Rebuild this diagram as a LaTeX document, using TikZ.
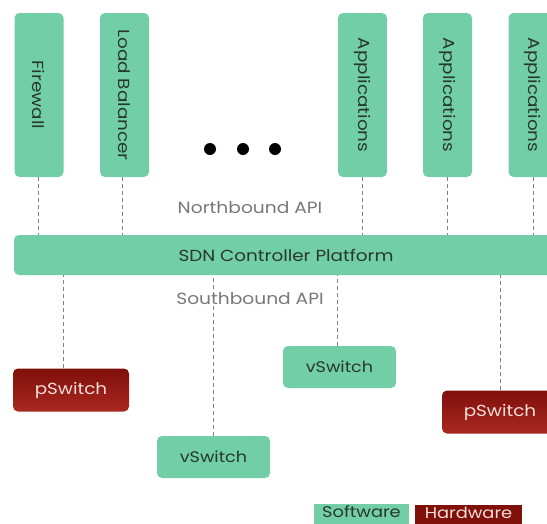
\documentclass[tikz,border=0pt]{standalone}
\usepackage{fontspec}
\setmainfont{Poppins}[FakeStretch=1.15]
\usetikzlibrary{calc}
\definecolor{sdngreen}{RGB}{114,206,166}
\definecolor{sdntext}{RGB}{40,55,48}
\definecolor{hwdark}{RGB}{128,16,10}
\definecolor{hwlight}{RGB}{168,40,32}
\definecolor{hwtext}{RGB}{245,222,218}
\definecolor{apigray}{RGB}{120,120,120}
\definecolor{dashgray}{RGB}{130,130,130}
\tikzset{
  swbox/.style={fill=sdngreen, rounded corners=5pt, inner sep=0pt, text=sdntext, font=\fontsize{16}{16}\selectfont},
  appbox/.style={swbox, minimum width=49pt, minimum height=164pt},
  apptext/.style={rotate=-90, text=sdntext, font=\fontsize{16}{16}\selectfont, inner sep=0pt},
  hwbox/.style={top color=hwdark, bottom color=hwlight, rounded corners=5pt, inner sep=0pt, text=hwtext, font=\fontsize{16}{16}\selectfont},
  link/.style={draw=dashgray, dashed, line width=1pt, dash pattern=on 4pt off 3pt},
  api/.style={text=apigray, font=\fontsize{16.2}{16.2}\selectfont, inner sep=0pt},
  dot/.style={circle, fill=black, minimum size=12pt, inner sep=0pt},
  legtext/.style={inner sep=0pt, font=\fontsize{15.5}{15.5}\selectfont},
}
\begin{document}
\begin{tikzpicture}[x=1pt, y=-1pt]
\useasboundingbox (0,0) rectangle (547,523);
\clip (0,0) rectangle (547,523);
% north boxes
\node[appbox] (fw) at (39,95) {};
\node[apptext] at (fw.center) {Firewall};
\node[appbox] (lb) at (124.5,95) {};
\node[apptext] at (lb.center) {Load Balancer};
\node[appbox] (app1) at (362.5,95) {};
\node[apptext] at (app1.center) {Applications};
\node[appbox] (app2) at (447.5,95) {};
\node[apptext] at (app2.center) {Applications};
\node[appbox] (app3) at (533,95) {};
\node[apptext] at (app3.center) {Applications};
% dots
\node[dot] (d1) at (210,149) {};
\node[dot] (d2) at (243,149) {};
\node[dot] (d3) at (275,149) {};
% platform
\node[swbox, minimum width=544pt, minimum height=40pt] (plat) at (286,255) {SDN Controller Platform};
\node[api] (nb) at (250,208) {Northbound API};
\node[api] (sb) at (250,299) {Southbound API};
% south boxes
\node[hwbox, minimum width=116pt, minimum height=43pt] (ps1) at (71,390) {pSwitch};
\node[swbox, minimum width=113pt, minimum height=42pt, font=\fontsize{15.3}{15.3}\selectfont] (vs1) at (339.5,367) {vSwitch};
\node[swbox, minimum width=113pt, minimum height=42pt, font=\fontsize{15.3}{15.3}\selectfont] (vs2) at (213.5,457) {vSwitch};
\node[hwbox, minimum width=116pt, minimum height=43pt] (ps2) at (500,412) {pSwitch};
% legend
\node[fill=sdngreen, minimum width=95pt, minimum height=21pt, inner sep=0pt] (soft) at (361.5,514.5) {};
\node[legtext, text=sdntext] (softt) at (361.5,511.5) {Software};
\node[fill=hwdark, minimum width=107pt, minimum height=21pt, inner sep=0pt] (hard) at (468.5,515.5) {};
\node[legtext, text=hwtext] (hardt) at (468.5,512.5) {Hardware};
% north links
\draw[link] ([xshift=-1pt]fw.south) -- ([xshift=-1pt]fw.south |- plat.north);
\draw[link] ([xshift=-2.5pt]lb.south) -- ([xshift=-2.5pt]lb.south |- plat.north);
\draw[link] ([xshift=-0.5pt]app1.south) -- ([xshift=-0.5pt]app1.south |- plat.north);
\draw[link] ([xshift=-0.5pt]app2.south) -- ([xshift=-0.5pt]app2.south |- plat.north);
\draw[link] (app3.south) -- (app3.south |- plat.north);
% south links
\draw[link] ([xshift=-8pt]ps1.north) -- ([xshift=-8pt]ps1.north |- plat.south);
\draw[link] ([xshift=-0.5pt]vs2.north) -- ([xshift=-0.5pt]vs2.north |- plat.south);
\draw[link] ([xshift=-2.5pt]vs1.north) -- ([xshift=-2.5pt]vs1.north |- plat.south);
\draw[link] (ps2.north) -- (ps2.north |- plat.south);
\end{tikzpicture}
\end{document}
